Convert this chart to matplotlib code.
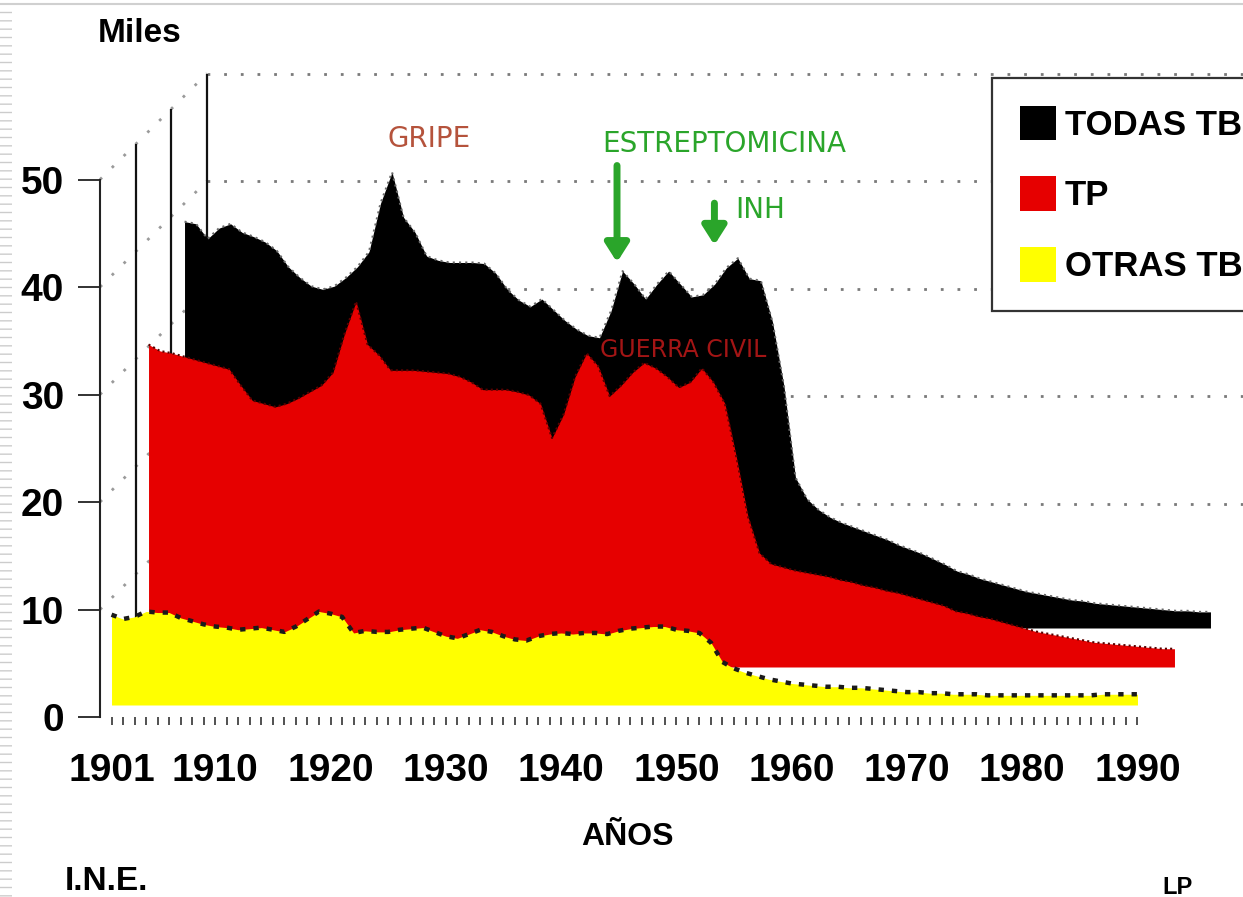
import matplotlib
matplotlib.use('Agg')
import matplotlib.pyplot as plt
from matplotlib.transforms import ScaledTranslation
from matplotlib.patches import Patch, Rectangle
from matplotlib.lines import Line2D

# datos anuales (miles de defunciones)
years = list(range(1901, 1991))
otrasTb = [8.4, 8.0, 8.2, 8.7, 8.6, 8.6, 8.1, 7.8, 7.5, 7.3,
           7.2, 7.0, 7.1, 7.2, 7.0, 6.8, 7.3, 8.0, 8.7, 8.5,
           8.2, 6.7, 6.9, 6.8, 6.8, 7.0, 7.1, 7.2, 6.8, 6.4,
           6.2, 6.6, 7.0, 6.8, 6.4, 6.1, 6.0, 6.4, 6.6, 6.7,
           6.6, 6.7, 6.7, 6.6, 6.9, 7.1, 7.2, 7.3, 7.3, 7.0,
           6.9, 6.7, 5.8, 4.0, 3.4, 3.0, 2.7, 2.4, 2.2, 2.0,
           1.9, 1.8, 1.7, 1.7, 1.6, 1.6, 1.5, 1.4, 1.3, 1.2,
           1.2, 1.1, 1.1, 1.0, 1.0, 1.0, 0.9, 0.9, 0.9, 0.9,
           0.9, 0.9, 0.9, 0.9, 0.9, 0.9, 1.0, 1.0, 1.0, 1.0]
tp = [30.0, 29.4, 29.2, 28.9, 28.6, 28.3, 28.0, 27.7, 26.2, 24.8,
      24.5, 24.2, 24.5, 25.0, 25.6, 26.2, 27.4, 31.0, 34.0, 30.0,
      29.0, 27.6, 27.6, 27.6, 27.5, 27.4, 27.3, 27.0, 26.5, 25.8,
      25.8, 25.8, 25.6, 25.3, 24.5, 21.3, 23.5, 27.0, 29.2, 28.0,
      25.2, 26.2, 27.4, 28.3, 27.8, 27.0, 26.0, 26.5, 27.8, 26.5,
      24.5, 19.5, 14.0, 10.6, 9.6, 9.3, 9.0, 8.8, 8.6, 8.4,
      8.1, 7.9, 7.6, 7.4, 7.1, 6.9, 6.6, 6.3, 6.0, 5.7,
      5.2, 5.0, 4.7, 4.5, 4.2, 3.9, 3.6, 3.3, 3.1, 2.9,
      2.7, 2.5, 2.3, 2.2, 2.1, 2.0, 1.9, 1.8, 1.7, 1.7]
todasTb = [37.8, 37.6, 36.2, 37.2, 37.6, 36.8, 36.4, 35.9, 35.1, 33.6,
           32.6, 31.8, 31.5, 31.8, 32.6, 33.6, 35.0, 39.5, 42.4, 38.2,
           36.8, 34.6, 34.2, 34.0, 34.0, 34.0, 33.9, 33.0, 31.5, 30.5,
           29.9, 30.6, 29.6, 28.6, 27.8, 27.2, 27.0, 29.5, 33.2, 32.0,
           30.6, 32.0, 33.2, 32.0, 30.8, 31.0, 32.0, 33.5, 34.4, 32.5,
           32.3, 28.5, 22.5, 14.0, 12.0, 11.0, 10.3, 9.8, 9.4, 9.0,
           8.6, 8.2, 7.7, 7.3, 6.9, 6.4, 5.9, 5.3, 5.0, 4.6,
           4.3, 4.0, 3.7, 3.4, 3.2, 3.0, 2.8, 2.6, 2.5, 2.3,
           2.2, 2.1, 2.0, 1.9, 1.8, 1.7, 1.6, 1.6, 1.5, 1.5]

yTicks = [0, 10, 20, 30, 40, 50]
xLabels = [1901, 1910, 1920, 1930, 1940, 1950, 1960, 1970, 1980, 1990]
seriesNames = ['TODAS TB', 'TP', 'OTRAS TB']

YELLOW = '#ffff00'
RED = '#e60000'
GREEN = '#2aa52a'

plt.rcParams['font.family'] = ['Liberation Sans', 'DejaVu Sans']

W, H = 1243, 897
fig = plt.figure(figsize=(W / 100, H / 100), dpi=100)
ax = fig.add_axes([100 / W, (H - 717) / H, 1049 / W, 645 / H])
ax.set_xlim(1900, 1991)
ax.set_ylim(0, 60)


def shifted(dxPx, dyPx):
    # desplazamiento de profundidad (efecto 3D)
    return ax.transData + ScaledTranslation(dxPx / 100, dyPx / 100, fig.dpi_scale_trans)


# pared del fondo
ax.hlines(yTicks[1:], 1900, 1993, transform=shifted(107, 106), colors='#7a7a7a',
          linestyles=(0, (1, 5)), lw=2, zorder=1, clip_on=False)
inv = fig.dpi_scale_trans.inverted()
for v in yTicks[1:]:
    x0, y0 = inv.transform(ax.transData.transform((1900, v)))
    ax.add_line(Line2D([x0, x0 + 1.07], [y0, y0 + 1.06], transform=fig.dpi_scale_trans,
                       color='#9a9a9a', ls=(0, (1, 5)), lw=2, zorder=1, clip_on=False))
for d in (1, 2, 3):
    ax.vlines(1900, 0, 50, transform=shifted(35.7 * d, 35.3 * d), colors='#111111',
              lw=1.6, zorder=1.5, clip_on=False)

# series
tBlack = shifted(73, 89)
tRed = shifted(37, 50)
tYellow = shifted(0, 12)
ax.fill_between(years, 0, todasTb, transform=tBlack, color='black', lw=0, zorder=2, clip_on=False)
ax.plot(years, todasTb, transform=tBlack, color='#6a6a6a', ls=(0, (1, 2)), lw=1.5, zorder=2.1, clip_on=False)
ax.fill_between(years, 0, tp, transform=tRed, color=RED, lw=0, zorder=3, clip_on=False)
ax.plot(years, tp, transform=tRed, color='#5a0000', ls=(0, (1, 1.5)), lw=1.5, zorder=3.1, clip_on=False)
ax.fill_between(years, 0, otrasTb, transform=tYellow, color=YELLOW, lw=0, zorder=4, clip_on=False)
ax.plot(years, otrasTb, transform=tYellow, color='#1a1a1a', ls=(0, (1.2, 1.8)), lw=3.2, zorder=4.1, clip_on=False)

# ejes
for side in ('top', 'right', 'bottom'):
    ax.spines[side].set_visible(False)
ax.spines['left'].set_bounds(0, 50)
ax.spines['left'].set_linewidth(1.5)
ax.spines['left'].set_color('#222222')
ax.set_yticks(yTicks, labels=[str(v) for v in yTicks], fontsize=28, fontweight='bold')
ax.tick_params(axis='y', length=16, width=1.3, pad=10, color='#222222')
ax.set_xticks(xLabels, labels=[str(v) for v in xLabels], fontsize=28, fontweight='bold')
ax.set_xticks(years, minor=True)
ax.tick_params(axis='x', which='both', length=6, width=1.2, color='#333333', pad=20)
ax.patch.set_visible(False)

# anotaciones
ax.text(1924.9, 53.0, 'GRIPE', color='#b5533c', fontsize=20, family='DejaVu Sans', va='baseline')
ax.text(1943.6, 52.6, 'ESTREPTOMICINA', color=GREEN, fontsize=20, family='DejaVu Sans', va='baseline')
ax.text(1955.1, 46.4, 'INH', color=GREEN, fontsize=20, family='DejaVu Sans', va='baseline')
ax.text(1943.4, 33.5, 'GUERRA CIVIL', color='#a31515', fontsize=17, family='DejaVu Sans',
        va='baseline', zorder=6)
arrowStyle = '-|>,head_width=0.35,head_length=0.55'
ax.annotate('', xy=(1944.85, 42.3), xytext=(1944.85, 51.3),
            arrowprops=dict(arrowstyle=arrowStyle, lw=5, color=GREEN, mutation_scale=20,
                            shrinkA=0, shrinkB=0), zorder=6)
ax.annotate('', xy=(1953.3, 43.9), xytext=(1953.3, 47.8),
            arrowprops=dict(arrowstyle=arrowStyle, lw=5, color=GREEN, mutation_scale=20,
                            shrinkA=0, shrinkB=0), zorder=6)

# leyenda
handles = [Patch(facecolor=c, edgecolor='none', label=n)
           for c, n in zip(['black', RED, YELLOW], seriesNames)]
leg = fig.legend(handles=handles, loc='upper left', bbox_to_anchor=(992 / W, 1 - 78 / H),
                 bbox_transform=fig.transFigure, fancybox=False, framealpha=1,
                 edgecolor='#333333', prop={'weight': 'bold', 'size': 25},
                 handlelength=1.05, handleheight=1.15, handletextpad=0.25,
                 labelspacing=1.0, borderpad=0.8, borderaxespad=0)
leg.get_frame().set_linewidth(1.6)

# textos de la figura
fig.text(98 / W, 1 - 42 / H, 'Miles', fontsize=24, fontweight='bold', va='baseline')
fig.text(627 / W, 1 - 845 / H, 'AÑOS', fontsize=23, fontweight='bold', ha='center', va='baseline')
fig.text(65 / W, 1 - 890 / H, 'I.N.E.', fontsize=24, fontweight='bold', va='baseline')
fig.text(1162 / W, 1 - 894 / H, 'LP', fontsize=17, fontweight='bold', va='baseline')

# marco de la diapositiva
fig.add_artist(Line2D([0, 1], [1 - 4 / H] * 2, transform=fig.transFigure, color='#d0d0d0', lw=1.5))
fig.add_artist(Rectangle((0, 0), 12 / W, 1, transform=fig.transFigure, facecolor='none',
                         edgecolor='#cccccc', lw=0, hatch='--'))

fig.savefig('out.png', dpi=100)
